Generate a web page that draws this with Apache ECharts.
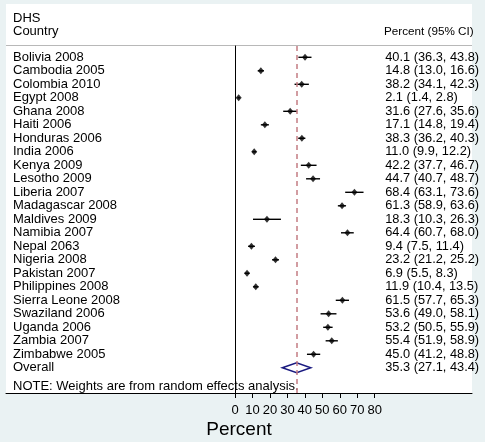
<!DOCTYPE html>
<html><head><meta charset="utf-8">
<script src="https://cdn.jsdelivr.net/npm/echarts@6/dist/echarts.min.js"></script>
<style>html,body{margin:0;padding:0;background:#eaf2f3}#c{width:485px;height:442px}</style>
</head><body><div id="c"></div>
<script>
const countries = ["Bolivia 2008","Cambodia 2005","Colombia 2010","Egypt 2008","Ghana 2008","Haiti 2006","Honduras 2006","India 2006","Kenya 2009","Lesotho 2009","Liberia 2007","Madagascar 2008","Maldives 2009","Namibia 2007","Nepal 2063","Nigeria 2008","Pakistan 2007","Philippines 2008","Sierra Leone 2008","Swaziland 2006","Uganda 2006","Zambia 2007","Zimbabwe 2005"];
const estimate = [40.1,14.8,38.2,2.1,31.6,17.1,38.3,11.0,42.2,44.7,68.4,61.3,18.3,64.4,9.4,23.2,6.9,11.9,61.5,53.6,53.2,55.4,45.0];
const lower =    [36.3,13.0,34.1,1.4,27.6,14.8,36.2,9.9,37.7,40.7,63.1,58.9,10.3,60.7,7.5,21.2,5.5,10.4,57.7,49.0,50.5,51.9,41.2];
const upper =    [43.8,16.6,42.3,2.8,35.6,19.4,40.3,12.2,46.7,48.7,73.6,63.6,26.3,68.0,11.4,25.2,8.3,13.5,65.3,58.1,55.9,58.9,48.8];
const overall = {label:"Overall", est:35.3, lo:27.1, hi:43.4};
const xTicks = [0,10,20,30,40,50,60,70,80];

const FONT = "'Liberation Sans', Arial, Helvetica, sans-serif";
const rowLabels = countries.concat([overall.label]);
const ciLabels = estimate.map((e,i)=>e.toFixed(1)+" ("+lower[i].toFixed(1)+", "+upper[i].toFixed(1)+")")
  .concat([overall.est.toFixed(1)+" ("+overall.lo.toFixed(1)+", "+overall.hi.toFixed(1)+")"]);
const nRows = rowLabels.length;

const chart = echarts.init(document.getElementById('c'), null, {renderer:'canvas'});
const plotLeft = 235, plotW = 139.7, rowH = 13.5, firstRow = 57.3;
const gridCTop = firstRow - rowH/2;
const gridCH = rowH * nRows;

chart.setOption({
  backgroundColor:'#eaf2f3',
  animation:false,
  textStyle:{fontFamily:FONT},
  grid:[
    {left:6, right:13, top:4, bottom:49, show:true, backgroundColor:'#fff', borderWidth:0},
    {left:plotLeft, width:plotW, top:46, bottom:49},
    {left:plotLeft, width:plotW, top:gridCTop, height:gridCH}
  ],
  xAxis:[
    {gridIndex:0, type:'value', min:0, max:1, axisLine:{show:true, onZero:false, lineStyle:{color:'#000', width:1}}, axisTick:{show:false}, axisLabel:{show:false}, splitLine:{show:false}},
    {gridIndex:1, type:'value', min:xTicks[0], max:xTicks[xTicks.length-1], interval:10,
      axisLine:{show:false}, axisTick:{show:true, length:5, lineStyle:{color:'#000', width:1}},
      axisLabel:{show:true, color:'#000', fontSize:13, fontFamily:FONT, margin:11}, splitLine:{show:false}},
    {gridIndex:2, type:'value', min:xTicks[0], max:xTicks[xTicks.length-1], show:false}
  ],
  yAxis:[
    {gridIndex:0, type:'value', show:false},
    {gridIndex:1, type:'value', min:0, max:1, axisLine:{show:true, onZero:false, lineStyle:{color:'#000', width:1}}, axisTick:{show:false}, axisLabel:{show:false}, splitLine:{show:false}},
    {gridIndex:2, type:'category', data:rowLabels, inverse:true, position:'left',
      axisLine:{show:false}, axisTick:{show:false}, splitLine:{show:false},
      axisLabel:{show:true, align:'left', margin:plotLeft-13, color:'#000', fontSize:13, fontFamily:FONT, interval:0}},
    {gridIndex:2, type:'category', data:ciLabels, inverse:true, position:'right',
      axisLine:{show:false}, axisTick:{show:false}, splitLine:{show:false},
      axisLabel:{show:true, align:'left', margin:10.5, color:'#000', fontSize:12.8, fontFamily:FONT, interval:0}}
  ],
  series:[
    {type:'line', xAxisIndex:1, yAxisIndex:1, data:[], silent:true,
      markLine:{silent:true, symbol:'none', label:{show:false},
        lineStyle:{color:'#c47c83', type:[5,4], width:1.5},
        data:[{xAxis:overall.est}]}},
    {type:'custom', xAxisIndex:2, yAxisIndex:2,
      data: countries.map((c,i)=>[lower[i], upper[i], i]),
      encode:{x:[0,1], y:2},
      renderItem:function(params, api){
        const a = api.coord([api.value(0), api.value(2)]);
        const b = api.coord([api.value(1), api.value(2)]);
        return {type:'line', shape:{x1:a[0], y1:a[1], x2:b[0], y2:b[1]}, style:{stroke:'#000', lineWidth:1.4}};
      }},
    {type:'scatter', xAxisIndex:2, yAxisIndex:2, symbol:'diamond', symbolSize:[6,7],
      itemStyle:{color:'#000'}, data: estimate.map((e,i)=>[e, i])},
    {type:'custom', xAxisIndex:2, yAxisIndex:2,
      data:[[overall.lo, overall.est, overall.hi, nRows-1]],
      encode:{x:[0,1,2], y:3},
      renderItem:function(params, api){
        const r = api.value(3);
        const l = api.coord([api.value(0), r]);
        const m = api.coord([api.value(1), r]);
        const h = api.coord([api.value(2), r]);
        return {type:'polygon', shape:{points:[[l[0],l[1]],[m[0],m[1]-5],[h[0],h[1]],[m[0],m[1]+5]]},
          style:{fill:'none', stroke:'#1a1a80', lineWidth:1.5}};
      }}
  ],
  graphic:[
    {type:'line', shape:{x1:6, y1:45.5, x2:472, y2:45.5}, style:{stroke:'#b8b8b8', lineWidth:1}},
    {type:'text', x:13, y:18.5, style:{text:'DHS', fill:'#000', font:'13px '+FONT, textVerticalAlign:'middle'}},
    {type:'text', x:13, y:31.5, style:{text:'Country', fill:'#000', font:'13px '+FONT, textVerticalAlign:'middle'}},
    {type:'text', x:384, y:32, style:{text:'Percent (95% CI)', fill:'#000', font:'11.7px '+FONT, textVerticalAlign:'middle'}},
    {type:'text', x:13, y:386, style:{text:'NOTE: Weights are from random effects analysis.', fill:'#000', font:'13px '+FONT, textVerticalAlign:'middle'}},
    {type:'text', x:239, y:430, style:{text:'Percent', fill:'#000', font:'19px '+FONT, textAlign:'center', textVerticalAlign:'middle'}}
  ]
});
</script></body></html>
